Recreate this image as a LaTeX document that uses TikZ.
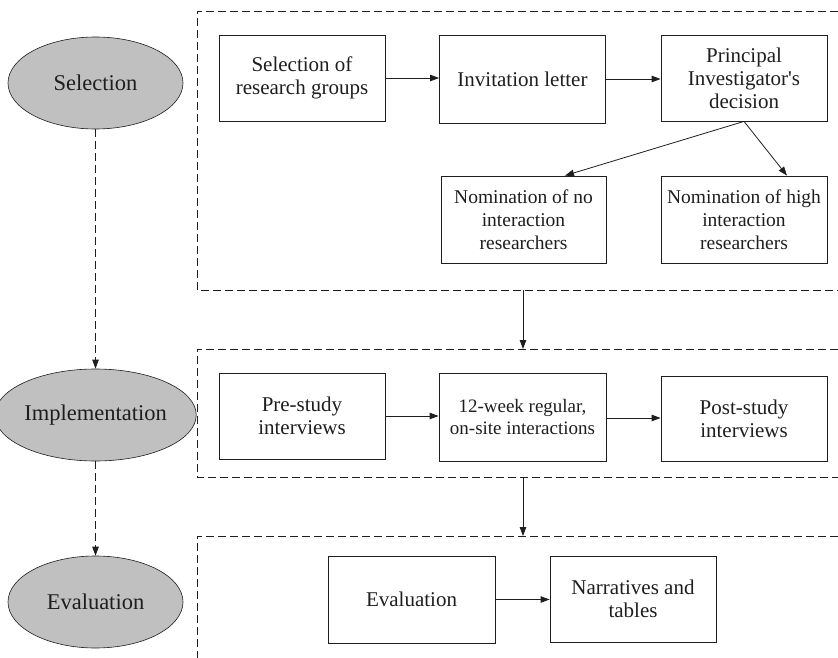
\documentclass[tikz,border=0pt]{standalone}
\usepackage{fontspec}
\setmainfont{Liberation Serif}
\usetikzlibrary{arrows.meta,shapes.geometric}
\definecolor{phasegray}{RGB}{192,192,192}
\definecolor{inkc}{RGB}{30,30,30}
\begin{document}
\begin{tikzpicture}[x=1pt,y=-1pt,
  box/.style={draw=inkc, line width=0.8pt, minimum width=166pt, minimum height=86pt,
    align=center, inner sep=2pt, text=inkc, font=\fontsize{21}{23}\selectfont},
  smallbox/.style={box, font=\fontsize{19.5}{23}\selectfont},
  phase/.style={ellipse, draw=inkc, fill=phasegray, line width=0.6pt, minimum width=175pt,
    minimum height=92pt, inner sep=0pt, text=inkc, font=\fontsize{22.5}{25}\selectfont},
  arr/.style={-{Triangle[length=9pt,width=6.5pt]}, line width=0.8pt, draw=inkc},
  darr/.style={arr, dash pattern=on 8pt off 4pt},
  frame/.style={draw=inkc, line width=0.8pt, dash pattern=on 8pt off 4pt}]
\useasboundingbox (0,0) rectangle (838,658);
\clip (0,0) rectangle (838,658);

% phases
\node[phase] (psel) at (95.5,83) {Selection};
\node[phase] (pimp) at (95.5,415) {Implementation};
\node[phase] (peva) at (95.5,602) {Evaluation};
\draw[darr] (psel) -- (pimp);
\draw[darr] (pimp) -- (peva);

% dashed frames
\coordinate (f1a) at (197,11);
\coordinate (f1b) at (197,290);
\coordinate (f2a) at (197,349);
\coordinate (f2b) at (197,477);
\coordinate (f3a) at (197,536);
\draw[frame] (850,11) -- (f1a) -- (f1b) -- (850,290);
\draw[frame] (850,349) -- (f2a) -- (f2b) -- (850,477);
\draw[frame] (850,536) -- (f3a) -- (197,670);
\coordinate (c1) at (523,290);
\coordinate (c2) at (523,349);
\coordinate (c3) at (523,477);
\coordinate (c4) at (523,536);
\draw[arr] (c1) -- (c2);
\draw[arr] (c3) -- (c4);

% selection row
\node[box] (sel) at (302,78) {Selection of\\research groups};
\node[box, minimum height=88pt] (inv) at (522.5,79) {Invitation letter};
\node[box] (pid) at (744,78) {Principal\\Investigator\textquotesingle s\\decision};
\node[smallbox, minimum width=165pt, minimum height=87pt] (nomno) at (523.5,219.5) {Nomination of no\\interaction\\researchers};
\node[smallbox, minimum height=87pt] (nomhi) at (744,219.5) {Nomination of high\\interaction\\researchers};
\draw[arr] (sel.east) -- (sel.east -| inv.west);
\draw[arr] (inv.east) -- (inv.east -| pid.west);
\draw[arr] (pid.south) -- ([xshift=41.5pt]nomno.north);
\draw[arr] (pid.south) -- ([xshift=43pt]nomhi.north);

% implementation row
\node[box] (pre) at (302,416) {Pre-study\\interviews};
\node[box, minimum width=167pt, minimum height=88pt, font=\fontsize{19}{22}\selectfont] (twelve) at (522.5,417) {12-week regular,\\on-site interactions};
\node[box, minimum height=85pt] (post) at (744,418.5) {Post-study\\interviews};
\draw[arr] (pre.east) -- (pre.east -| twelve.west);
\draw[arr] ([yshift=-1pt]twelve.east) -- ([yshift=-1pt]twelve.east -| post.west);

% evaluation row
\node[box, minimum width=167pt, minimum height=87pt] (eval) at (411.5,599.5) {Evaluation};
\node[box] (narr) at (633,599) {Narratives and\\tables};
\draw[arr] (eval.east) -- (eval.east -| narr.west);
\end{tikzpicture}
\end{document}
